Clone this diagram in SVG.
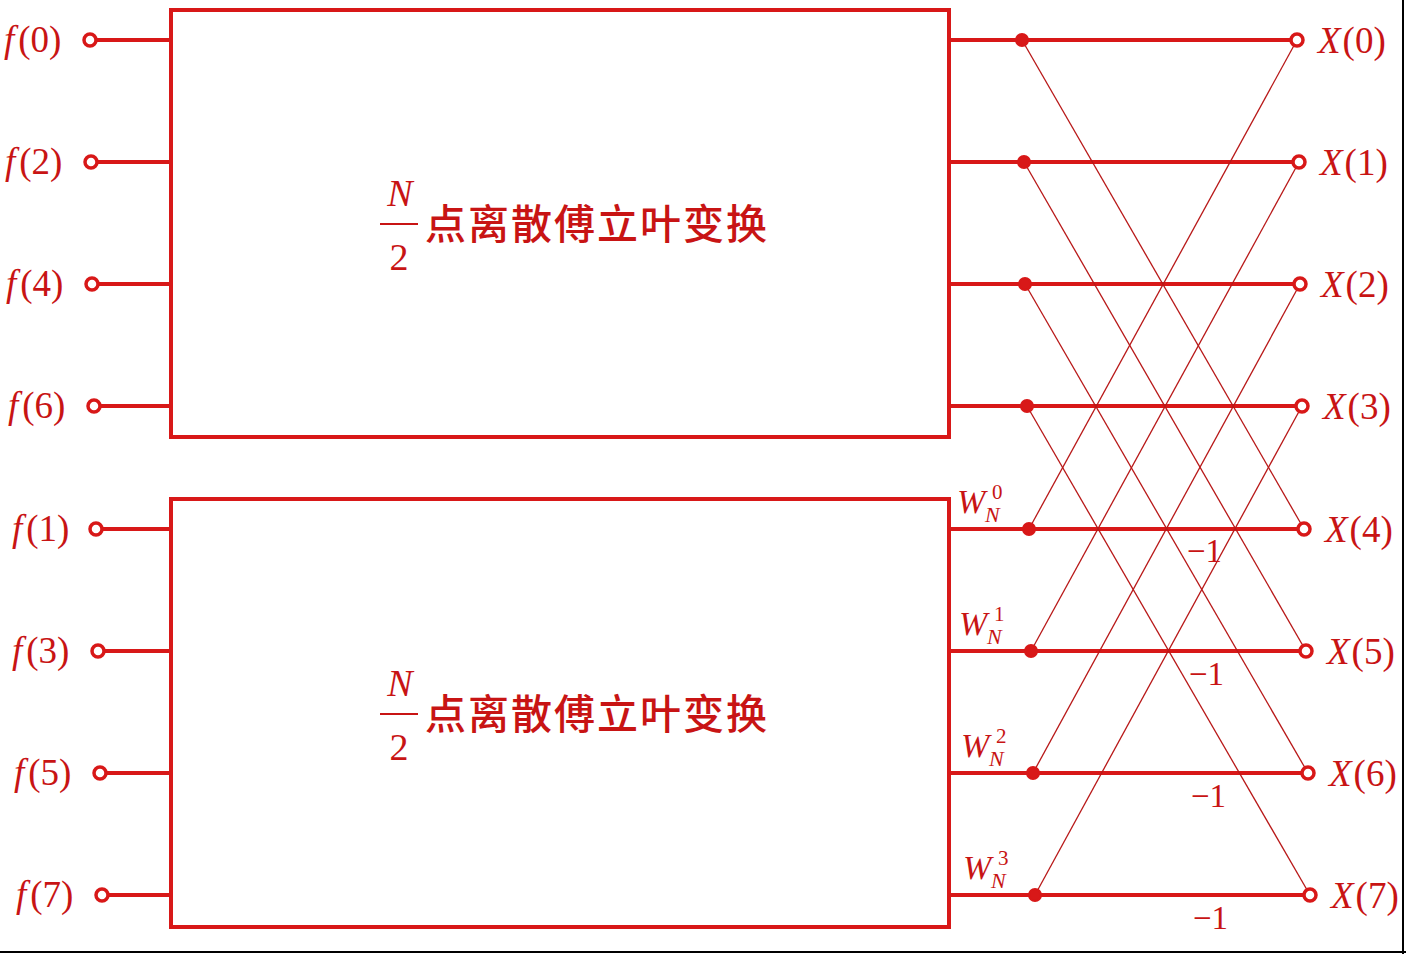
<svg xmlns="http://www.w3.org/2000/svg" width="1406" height="954" viewBox="0 0 1406 954">
<style>
.box{fill:none;stroke:#d81818;stroke-width:4}
.wire{stroke:#d81818;stroke-width:4}
.thin{stroke:#b81818;stroke-width:1.3}
.open{fill:#fff;stroke:#d81818;stroke-width:3.5}
.dot{fill:#d81818;stroke:#d81818;stroke-width:2}
text{font-family:"Liberation Serif","Times New Roman",serif;fill:#c81414}
.lab{font-size:37px}
.it{font-style:italic}
.cjk{font-family:"Noto Sans CJK SC",sans-serif;font-size:41px;font-weight:500}
.w{font-size:34px}
.sub{font-size:22px}
.sup{font-size:21px}
.m1{font-size:33px}
</style>
<rect width="1406" height="954" fill="#fff"/>
<line x1="1403" y1="0" x2="1403" y2="954" stroke="#000" stroke-width="2"/>
<line x1="0" y1="952" x2="1406" y2="952" stroke="#000" stroke-width="2"/>
<g id="connectors">
<line class="wire" x1="90" y1="40" x2="171" y2="40"/>
<line class="wire" x1="91" y1="162" x2="171" y2="162"/>
<line class="wire" x1="92" y1="284" x2="171" y2="284"/>
<line class="wire" x1="94" y1="406" x2="171" y2="406"/>
<line class="wire" x1="96" y1="529" x2="171" y2="529"/>
<line class="wire" x1="98" y1="651" x2="171" y2="651"/>
<line class="wire" x1="100" y1="773" x2="171" y2="773"/>
<line class="wire" x1="102" y1="895" x2="171" y2="895"/>
<line class="wire" x1="949" y1="40" x2="1297" y2="40"/>
<line class="wire" x1="949" y1="162" x2="1299" y2="162"/>
<line class="wire" x1="949" y1="284" x2="1300" y2="284"/>
<line class="wire" x1="949" y1="406" x2="1302" y2="406"/>
<line class="wire" x1="949" y1="529" x2="1304" y2="529"/>
<line class="wire" x1="949" y1="651" x2="1306" y2="651"/>
<line class="wire" x1="949" y1="773" x2="1308" y2="773"/>
<line class="wire" x1="949" y1="895" x2="1310" y2="895"/>
<line class="thin" x1="1022" y1="40" x2="1304" y2="529"/>
<line class="thin" x1="1024" y1="162" x2="1306" y2="651"/>
<line class="thin" x1="1025" y1="284" x2="1308" y2="773"/>
<line class="thin" x1="1027" y1="406" x2="1310" y2="895"/>
<line class="thin" x1="1029" y1="529" x2="1297" y2="40"/>
<line class="thin" x1="1031" y1="651" x2="1299" y2="162"/>
<line class="thin" x1="1033" y1="773" x2="1300" y2="284"/>
<line class="thin" x1="1035" y1="895" x2="1302" y2="406"/>
</g>
<g id="box-top">
<rect class="box" x="171" y="10" width="778" height="427"/>
<text x="400" y="206" class="it" font-size="38" text-anchor="middle">N</text>
<line x1="380" y1="224" x2="418" y2="224" stroke="#c81414" stroke-width="2"/>
<text x="399" y="270" font-size="38" text-anchor="middle">2</text>
<text x="425" y="239" class="cjk" textLength="342">点离散傅立叶变换</text>
</g>
<g id="box-bottom">
<rect class="box" x="171" y="499" width="778" height="428"/>
<text x="400" y="696" class="it" font-size="38" text-anchor="middle">N</text>
<line x1="380" y1="714" x2="418" y2="714" stroke="#c81414" stroke-width="2"/>
<text x="399" y="760" font-size="38" text-anchor="middle">2</text>
<text x="425" y="729" class="cjk" textLength="342">点离散傅立叶变换</text>
</g>
<g id="inputs">
<circle class="open" cx="90" cy="40" r="6"/>
<circle class="open" cx="91" cy="162" r="6"/>
<circle class="open" cx="92" cy="284" r="6"/>
<circle class="open" cx="94" cy="406" r="6"/>
<circle class="open" cx="96" cy="529" r="6"/>
<circle class="open" cx="98" cy="651" r="6"/>
<circle class="open" cx="100" cy="773" r="6"/>
<circle class="open" cx="102" cy="895" r="6"/>
<text class="lab" x="4" y="52"><tspan class="it">f</tspan><tspan dx="4">(0)</tspan></text>
<text class="lab" x="5" y="174"><tspan class="it">f</tspan><tspan dx="4">(2)</tspan></text>
<text class="lab" x="6" y="296"><tspan class="it">f</tspan><tspan dx="4">(4)</tspan></text>
<text class="lab" x="8" y="418"><tspan class="it">f</tspan><tspan dx="4">(6)</tspan></text>
<text class="lab" x="12" y="541"><tspan class="it">f</tspan><tspan dx="4">(1)</tspan></text>
<text class="lab" x="12" y="663"><tspan class="it">f</tspan><tspan dx="4">(3)</tspan></text>
<text class="lab" x="14" y="785"><tspan class="it">f</tspan><tspan dx="4">(5)</tspan></text>
<text class="lab" x="16" y="907"><tspan class="it">f</tspan><tspan dx="4">(7)</tspan></text>
</g>
<g id="mid-nodes">
<circle class="dot" cx="1022" cy="40" r="6"/>
<circle class="dot" cx="1024" cy="162" r="6"/>
<circle class="dot" cx="1025" cy="284" r="6"/>
<circle class="dot" cx="1027" cy="406" r="6"/>
<circle class="dot" cx="1029" cy="529" r="6"/>
<circle class="dot" cx="1031" cy="651" r="6"/>
<circle class="dot" cx="1033" cy="773" r="6"/>
<circle class="dot" cx="1035" cy="895" r="6"/>
</g>
<g id="twiddles">
<text class="w it" x="957" y="513">W</text><text class="sub it" x="985" y="522">N</text><text class="sup" x="992" y="499">0</text>
<text class="w it" x="959" y="635">W</text><text class="sub it" x="987" y="644">N</text><text class="sup" x="994" y="621">1</text>
<text class="w it" x="961" y="757">W</text><text class="sub it" x="989" y="766">N</text><text class="sup" x="996" y="743">2</text>
<text class="w it" x="963" y="879">W</text><text class="sub it" x="991" y="888">N</text><text class="sup" x="998" y="865">3</text>
</g>
<g id="minus-labels">
<text class="m1" x="1187" y="562">−1</text>
<text class="m1" x="1189" y="685">−1</text>
<text class="m1" x="1191" y="807">−1</text>
<text class="m1" x="1193" y="929">−1</text>
</g>
<g id="outputs">
<circle class="open" cx="1297" cy="40" r="6"/>
<circle class="open" cx="1299" cy="162" r="6"/>
<circle class="open" cx="1300" cy="284" r="6"/>
<circle class="open" cx="1302" cy="406" r="6"/>
<circle class="open" cx="1304" cy="529" r="6"/>
<circle class="open" cx="1306" cy="651" r="6"/>
<circle class="open" cx="1308" cy="773" r="6"/>
<circle class="open" cx="1310" cy="895" r="6"/>
<text class="lab" x="1318" y="53"><tspan class="it">X</tspan><tspan dx="2">(0)</tspan></text>
<text class="lab" x="1320" y="175"><tspan class="it">X</tspan><tspan dx="2">(1)</tspan></text>
<text class="lab" x="1321" y="297"><tspan class="it">X</tspan><tspan dx="2">(2)</tspan></text>
<text class="lab" x="1323" y="419"><tspan class="it">X</tspan><tspan dx="2">(3)</tspan></text>
<text class="lab" x="1325" y="542"><tspan class="it">X</tspan><tspan dx="2">(4)</tspan></text>
<text class="lab" x="1327" y="664"><tspan class="it">X</tspan><tspan dx="2">(5)</tspan></text>
<text class="lab" x="1329" y="786"><tspan class="it">X</tspan><tspan dx="2">(6)</tspan></text>
<text class="lab" x="1331" y="908"><tspan class="it">X</tspan><tspan dx="2">(7)</tspan></text>
</g>
</svg>
